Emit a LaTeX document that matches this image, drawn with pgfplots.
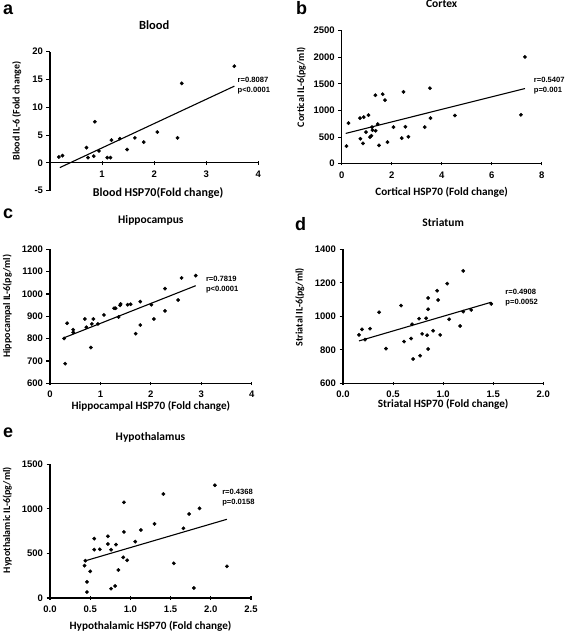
\documentclass[border=0pt]{standalone}
\usepackage{fontspec}
\setmainfont{Liberation Sans}
\newfontfamily\calibri{Carlito}
\usepackage{pgfplots}
\pgfplotsset{compat=1.18}
\pgfplotsset{
  panel/.style={
    scale only axis,
    anchor=south west,
    axis y line=left,
    axis line style={-, line width=1.1pt},
    tick align=outside,
    major tick length=3.5pt,
    tick style={line width=1.1pt, black},
    enlargelimits=false,
    clip=false,
    /pgf/number format/assume math mode=true,
    /pgf/number format/1000 sep={},
    tick label style={font=\fontsize{9.5}{11}\selectfont\bfseries},
    xticklabel style={yshift=-2.5pt},
    xlabel style={font=\calibri\bfseries\fontsize{11.2}{13}\selectfont},
    ylabel style={font=\calibri\bfseries\fontsize{10}{12}\selectfont},
    title style={font=\calibri\bfseries\fontsize{11.5}{13}\selectfont, anchor=center},
  },
  dots/.style={only marks, mark=*, mark size=1.7pt, black},
  fit/.style={black, line width=1.1pt, no marks},
}
\tikzset{ann/.style={anchor=north west, inner sep=0pt, align=left, font=\fontsize{7.6}{10}\selectfont\bfseries}}
\begin{document}
\begin{tikzpicture}
\path[use as bounding box] (0pt,0pt) rectangle (567pt,634pt);
% panel letters
\node[anchor=base west, inner sep=0pt, font=\fontsize{18}{18}\selectfont\bfseries] at (3pt,619pt) {a};
\node[anchor=base west, inner sep=0pt, font=\fontsize{18}{18}\selectfont\bfseries] at (296pt,619pt) {b};
\node[anchor=base west, inner sep=0pt, font=\fontsize{18}{18}\selectfont\bfseries] at (3pt,415pt) {c};
\node[anchor=base west, inner sep=0pt, font=\fontsize{18}{18}\selectfont\bfseries] at (295pt,403pt) {d};
\node[anchor=base west, inner sep=0pt, font=\fontsize{18}{18}\selectfont\bfseries] at (3pt,196pt) {e};

% ---------- a: Blood
\begin{axis}[panel, at={(50pt,443.3pt)}, width=208.3pt, height=139pt,
  axis x line=middle, axis line style={-},
  xmin=0, xmax=4, ymin=-5, ymax=20,
  xtick={1,2,3,4}, ytick={-5,0,5,10,15,20},
  title={Blood}, title style={at={([yshift=20.5pt]axis description cs:0.5,1)}, font=\calibri\bfseries\fontsize{12.5}{14}\selectfont},
  xlabel={Blood HSP70(Fold change)}, ylabel={Blood IL-6 (Fold change)},
  xlabel style={at={([xshift=4pt,yshift=-2.6pt]axis description cs:0.5,0)}, anchor=center, font=\calibri\bfseries\fontsize{12}{14}\selectfont},
  ylabel style={at={([xshift=-33.3pt,yshift=10pt]axis description cs:0,0.5)}, anchor=center}]
\addplot[dots] coordinates {
(0.17,1.07) (0.24,1.3) (0.70,2.75) (0.73,0.95) (0.84,1.2) (0.86,7.4)
(0.94,2.15) (1.10,0.95) (1.16,0.95) (1.18,4.1) (1.34,4.35) (1.48,2.4)
(1.63,4.5) (1.80,3.75) (2.06,5.55) (2.45,4.5) (2.53,14.3) (3.54,17.4)};
\addplot[fit] coordinates {(0.19,-0.84) (3.54,13.8)};
\node[ann] at (axis cs:3.6,15.4) {r=0.8087\\p<0.0001};
\end{axis}

% ---------- b: Cortex
\begin{axis}[panel, at={(341.7pt,470.3pt)}, width=200pt, height=133pt,
  axis x line=bottom, axis line style={-},
  xmin=0, xmax=8, ymin=0, ymax=2500,
  xtick={0,2,4,6,8}, ytick={0,500,1000,1500,2000,2500},
  title={Cortex}, title style={at={([yshift=20.7pt]axis description cs:0.5,1)}},
  xlabel={Cortical HSP70 (Fold change)}, ylabel={Cortical IL-6(pg/ml)},
  xlabel style={at={([yshift=-29pt]axis description cs:0.5,0)}, anchor=center},
  ylabel style={at={([xshift=-40.4pt,yshift=10pt]axis description cs:0,0.5)}, anchor=center}]
\addplot[dots] coordinates {
(0.19,331) (0.27,762) (0.73,856) (0.75,469) (0.85,381) (0.88,875)
(0.97,594) (1.07,912) (1.13,500) (1.19,525) (1.21,688) (1.23,631)
(1.35,1287) (1.36,619) (1.44,744) (1.49,344) (1.64,1306) (1.73,1194)
(1.83,406) (2.07,688) (2.40,481) (2.47,1350) (2.55,694) (2.67,506)
(3.32,688) (3.53,1419) (3.55,856) (4.53,906) (7.17,919) (7.33,2006)};
\addplot[fit] coordinates {(0.16,569) (7.33,1413)};
\node[ann] at (axis cs:7.68,1624) {r=0.5407\\p=0.001};
\end{axis}

% ---------- c: Hippocampus
\begin{axis}[panel, at={(50pt,250.7pt)}, width=201.7pt, height=134pt,
  axis x line=bottom, axis line style={-},
  xmin=0, xmax=4, ymin=600, ymax=1200,
  xtick={0,1,2,3,4}, ytick={600,700,800,900,1000,1100,1200},
  title={Hippocampus}, title style={at={([yshift=22.6pt]axis description cs:0.5,1)}},
  xlabel={Hippocampal HSP70 (Fold change)}, ylabel={Hippocampal IL-6(pg/ml)},
  xlabel style={at={([yshift=-23.4pt]axis description cs:0.5,0)}, anchor=center},
  ylabel style={at={([xshift=-42.7pt,yshift=10pt]axis description cs:0,0.5)}, anchor=center}]
\addplot[dots] coordinates {
(0.28,801) (0.30,688) (0.34,869) (0.46,828) (0.46,840) (0.69,888)
(0.72,851) (0.81,760) (0.83,866) (0.86,888) (0.95,866) (1.07,906)
(1.27,936) (1.30,936) (1.36,897) (1.39,949) (1.40,955) (1.54,952)
(1.60,954) (1.70,822) (1.79,861) (1.79,966) (2.01,952) (2.06,888)
(2.28,1024) (2.28,924) (2.54,973) (2.61,1072) (2.89,1082)};
\addplot[fit] coordinates {(0.28,804) (2.89,1037)};
\node[ann] at (axis cs:3.09,1082) {r=0.7819\\p<0.0001};
\end{axis}

% ---------- d: Striatum
\begin{axis}[panel, at={(343pt,250.7pt)}, width=200.3pt, height=134pt,
  axis x line=bottom, axis line style={-},
  xmin=0, xmax=2, ymin=600, ymax=1400,
  xtick={0,0.5,1,1.5,2}, ytick={600,800,1000,1200,1400},
  xticklabel style={/pgf/number format/.cd, fixed, fixed zerofill, precision=1},
  title={Striatum}, title style={at={([yshift=20.3pt]axis description cs:0.5,1)}},
  xlabel={Striatal HSP70 (Fold change)}, ylabel={Striatal IL-6(pg/ml)},
  xlabel style={at={([yshift=-21pt]axis description cs:0.5,0)}, anchor=center},
  ylabel style={at={([xshift=-43.3pt,yshift=9pt]axis description cs:0,0.5)}, anchor=center}]
\addplot[dots] coordinates {
(0.16,889) (0.19,922) (0.22,861) (0.27,926) (0.36,1024) (0.43,807)
(0.58,1064) (0.61,849) (0.68,867) (0.69,952) (0.70,745) (0.76,986)
(0.77,765) (0.79,895) (0.83,988) (0.84,887) (0.85,805) (0.85,1042)
(0.85,1109) (0.90,914) (0.94,1153) (0.95,1097) (0.97,889) (1.04,1195)
(1.06,982) (1.17,942) (1.20,1271) (1.20,1028) (1.28,1038) (1.48,1074)};
\addplot[fit] coordinates {(0.16,853) (1.48,1084)};
\node[ann] at (axis cs:1.62,1161) {r=0.4908\\p=0.0052};
\end{axis}

% ---------- e: Hypothalamus
\begin{axis}[panel, at={(50pt,36pt)}, width=201pt, height=133.7pt,
  axis x line=bottom, axis line style={-},
  xmin=0, xmax=2.5, ymin=0, ymax=1500,
  xtick={0,0.5,1,1.5,2,2.5}, ytick={0,500,1000,1500},
  xticklabel style={/pgf/number format/.cd, fixed, fixed zerofill, precision=1},
  title={Hypothalamus}, title style={at={([yshift=21.3pt]axis description cs:0.5,1)}},
  xlabel={Hypothalamic HSP70 (Fold change)}, ylabel={Hypothalamic IL-6(pg/ml)},
  xlabel style={at={([yshift=-28.7pt]axis description cs:0.5,0)}, anchor=center},
  ylabel style={at={([xshift=-42.7pt,yshift=11pt]axis description cs:0,0.5)}, anchor=center}]
\addplot[dots] coordinates {
(0.43,363) (0.44,419) (0.46,180) (0.46,67) (0.50,299) (0.55,542)
(0.55,666) (0.62,546) (0.72,692) (0.72,606) (0.76,542) (0.76,105)
(0.81,135) (0.82,599) (0.85,314) (0.91,456) (0.92,741) (0.92,1074)
(0.96,423) (1.06,632) (1.13,763) (1.30,831) (1.41,1167) (1.54,389)
(1.66,782) (1.73,943) (1.79,112) (1.86,1006) (2.05,1265) (2.20,355)};
\addplot[fit] coordinates {(0.43,415) (2.20,883)};
\node[ann] at (axis cs:2.14,1220) {r=0.4368\\p=0.0158};
\end{axis}
\end{tikzpicture}
\end{document}
